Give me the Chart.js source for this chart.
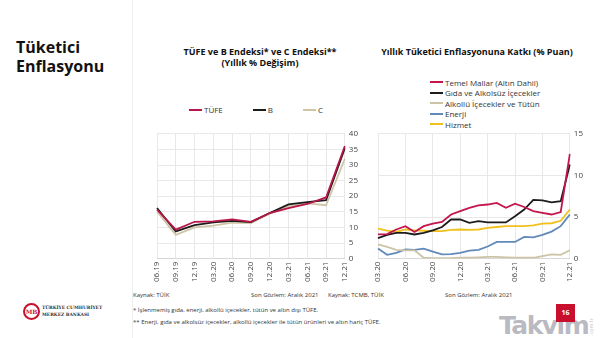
<!DOCTYPE html>
<html>
<head>
<meta charset="utf-8">
<script src="https://cdn.jsdelivr.net/npm/chart.js@4/dist/chart.umd.min.js"></script>
<style>
  body { margin: 0; width: 600px; height: 338px; background: #fff; font-family: "Open Sans", sans-serif; position: relative; overflow: hidden; }
  .abs { position: absolute; }
  #pageTitle { left: 16px; top: 38px; font-size: 16px; font-weight: 700; line-height: 19px; color: #111; }
  #divider { left: 132px; top: 0; width: 1px; height: 338px; background: #eee; }
  .chartTitle { font-size: 9px; font-weight: 700; color: #111; text-align: center; line-height: 11px; }
  .legend { font-size: 8px; color: #333; }
  .legend .item { display: flex; align-items: center; white-space: nowrap; }
  .legend .swatch { width: 13px; height: 2px; margin-right: 2px; }
  .note { font-size: 6px; color: #333; white-space: nowrap; }
  canvas { position: absolute; }
</style>
</head>
<body>
<div id="pageTitle" class="abs">Tüketici<br>Enflasyonu</div>
<div id="divider" class="abs"></div>

<div class="abs chartTitle" style="left:160px; top:46px; width:200px;">TÜFE ve B Endeksi* ve C Endeksi**<br>(Yıllık % Değişim)</div>
<div id="legendLeft" class="abs legend" style="left:189px; top:104px; display:flex;"></div>
<div class="abs" style="left:154px; top:125px; width:208px; height:160px;"><canvas id="leftChart"></canvas></div>

<div class="abs chartTitle" style="left:372px; top:46px; width:210px;">Yıllık Tüketici Enflasyonuna Katkı (% Puan)</div>
<div id="legendRight" class="abs legend" style="left:430px; top:77px;"></div>
<div class="abs" style="left:375px; top:125px; width:212px; height:160px;"><canvas id="rightChart"></canvas></div>

<div class="abs note" style="left:133px; top:291px;">Kaynak: TÜİK</div>
<div class="abs note" style="left:251px; top:291px;">Son Gözlem: Aralık 2021</div>
<div class="abs note" style="left:328px; top:291px;">Kaynak: TCMB, TÜİK</div>
<div class="abs note" style="left:445px; top:291px;">Son Gözlem: Aralık 2021</div>
<div class="abs note" style="left:133px; top:306px;">* İşlenmemiş gıda, enerji, alkollü içecekler, tütün ve altın dışı TÜFE.</div>
<div class="abs note" style="left:133px; top:318px;">** Enerji, gıda ve alkolsüz içecekler, alkollü içecekler ile tütün ürünleri ve altın hariç TÜFE.</div>

<!-- bank logo -->
<div class="abs" style="left:23px; top:303px; width:17px; height:17px; border:2px solid #c8102e; border-radius:50%; box-sizing:border-box; color:#c8102e; font:700 6px 'DejaVu Serif', serif; text-align:center; line-height:13px;">MB</div>
<div class="abs" style="left:42px; top:305px; font:700 4.4px 'DejaVu Serif', serif; color:#333; line-height:6.5px;">TÜRKİYE CUMHURİYET<br>MERKEZ BANKASI</div>

<!-- page number and site mark -->
<div class="abs" style="left:499px; top:311px; font:900 25px 'DejaVu Sans', sans-serif; color:rgba(145,145,158,0.65); letter-spacing:-1.5px;">Takvim</div>
<div class="abs" style="left:588px; top:336px; font:5px 'DejaVu Sans', sans-serif; color:rgba(150,150,160,0.6); transform:rotate(-90deg); transform-origin:left top;">.com.tr</div>
<div class="abs" style="left:556px; top:304px; width:19px; height:18px; background:#c8102e; color:#fff; font:700 7px 'Open Sans', sans-serif; text-align:center; line-height:18px;">16</div>

<script>
// TÜFE, B ve C endeksleri (yıllık % değişim, çeyreklik)
const quarterLabels = ["06.19", "09.19", "12.19", "03.20", "06.20", "09.20", "12.20", "03.21", "06.21", "09.21", "12.21"];
const tufeValues = [15.7, 9.3, 11.8, 11.9, 12.6, 11.8, 14.6, 16.2, 17.5, 19.6, 36.1];
const bValues = [16.2, 8.7, 10.7, 11.6, 12.1, 11.7, 14.6, 17.4, 18.1, 18.7, 35.4];
const cValues = [15.1, 7.6, 10.0, 10.6, 11.5, 11.4, 14.4, 16.8, 17.7, 17.1, 32.0];

// Katkılar (% puan, aylık)
const monthLabels = ["03.20", "04.20", "05.20", "06.20", "07.20", "08.20", "09.20", "10.20", "11.20", "12.20",
  "01.21", "02.21", "03.21", "04.21", "05.21", "06.21", "07.21", "08.21", "09.21", "10.21", "11.21", "12.21"];
const temelMallar = [2.9, 2.95, 3.5, 3.9, 3.2, 3.9, 4.2, 4.4, 5.3, 5.7, 6.1, 6.4, 6.5, 6.7, 6.1, 6.6, 6.2, 5.7, 5.5, 5.3, 5.6, 12.6];
const gida = [2.45, 2.85, 3.1, 3.1, 2.9, 3.1, 3.4, 3.8, 4.7, 4.7, 4.3, 4.5, 4.35, 4.35, 4.35, 5.1, 5.9, 7.05, 7.0, 6.75, 6.9, 11.3];
const alkol = [1.7, 1.4, 1.05, 1.0, 1.0, 0.1, 0.05, 0.05, 0.05, 0.1, 0.1, 0.15, 0.2, 0.2, 0.15, 0.1, 0.1, 0.1, 0.3, 0.5, 0.45, 1.0];
const enerji = [1.2, 0.45, 0.7, 1.1, 1.05, 1.2, 0.85, 0.5, 0.55, 0.7, 0.95, 1.05, 1.45, 2.0, 2.0, 2.0, 2.6, 2.55, 2.85, 3.25, 3.9, 5.3];
const hizmet = [3.6, 3.35, 3.2, 3.5, 3.4, 3.35, 3.3, 3.3, 3.45, 3.5, 3.45, 3.5, 3.7, 3.8, 3.9, 3.9, 3.9, 4.0, 4.2, 4.25, 4.55, 5.9];

const leftSeries = [
  { label: "TÜFE", data: tufeValues, color: "#b8164a" },
  { label: "B", data: bValues, color: "#1c1c1c" },
  { label: "C", data: cValues, color: "#d0c4a7" },
];
const rightSeries = [
  { label: "Temel Mallar (Altın Dahil)", data: temelMallar, color: "#c4164c" },
  { label: "Gıda ve Alkolsüz İçecekler", data: gida, color: "#1c1c1c" },
  { label: "Alkollü İçecekler ve Tütün", data: alkol, color: "#cdc3a6" },
  { label: "Enerji", data: enerji, color: "#6189ba" },
  { label: "Hizmet", data: hizmet, color: "#f0c11c" },
];

const tickFont = { family: "Open Sans", size: 8 };
const gridColor = "#e8e8e8";

function buildLegend(el, series, gap, vertical) {
  series.forEach((s) => {
    const item = document.createElement("div");
    item.className = "item";
    if (vertical) item.style.height = "10.5px";
    else item.style.marginRight = gap + "px";
    item.innerHTML = `<span class="swatch" style="background:${s.color}"></span>${s.label}`;
    el.appendChild(item);
  });
}
buildLegend(document.getElementById("legendLeft"), leftSeries, 30, false);
buildLegend(document.getElementById("legendRight"), rightSeries, 0, true);

function toDatasets(series) {
  return series.map((s) => ({
    label: s.label,
    data: s.data,
    borderColor: s.color,
    backgroundColor: s.color,
    borderWidth: 1.8,
    pointRadius: 0,
    tension: 0,
  }));
}

function baseOptions(yMax, yStep, xTickCallback, xGridColor) {
  return {
    responsive: true,
    maintainAspectRatio: false,
    animation: false,
    layout: { padding: { left: 0, right: 0, top: 6, bottom: 0 } },
    plugins: { legend: { display: false }, tooltip: { enabled: false } },
    scales: {
      x: {
        grid: { color: xGridColor, drawTicks: false },
        border: { color: "#d8d8d8" },
        ticks: {
          font: tickFont, color: "#444", minRotation: 90, maxRotation: 90,
          autoSkip: false, padding: 3, callback: xTickCallback,
        },
      },
      y: {
        position: "right",
        min: 0, max: yMax,
        grid: { color: gridColor, drawTicks: false },
        border: { display: false },
        ticks: { font: tickFont, color: "#444", stepSize: yStep, padding: 4 },
      },
    },
  };
}

new Chart(document.getElementById("leftChart"), {
  type: "line",
  data: { labels: quarterLabels, datasets: toDatasets(leftSeries) },
  options: baseOptions(40, 5, function (v) { return this.getLabelForValue(v); }, gridColor),
});

new Chart(document.getElementById("rightChart"), {
  type: "line",
  data: { labels: monthLabels, datasets: toDatasets(rightSeries) },
  options: baseOptions(
    15, 5,
    function (v, i) { return i % 3 === 0 ? this.getLabelForValue(v) : ""; },
    (ctx) => (ctx.index % 3 === 0 ? gridColor : "rgba(0,0,0,0)")
  ),
});
</script>
</body>
</html>
